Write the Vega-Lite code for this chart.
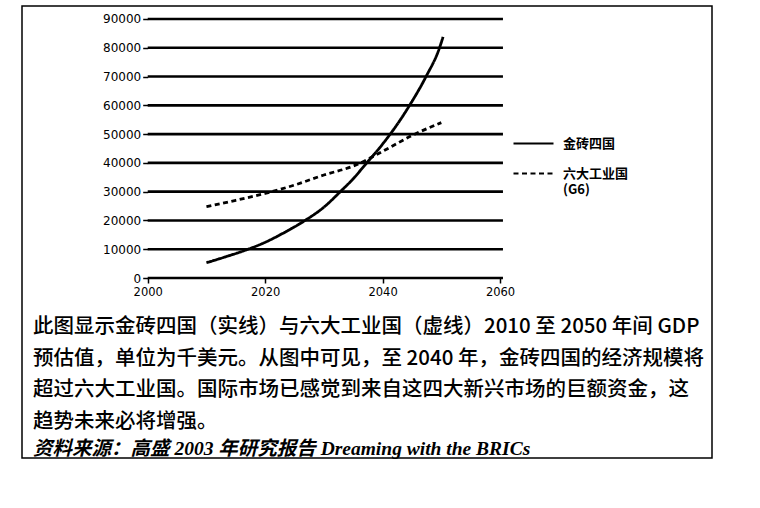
{
  "$schema": "https://vega.github.io/schema/vega-lite/v6.json",
  "width": 690,
  "height": 452,
  "autosize": {"type": "none"},
  "padding": {"left": 22, "top": 6, "right": 48, "bottom": 50},
  "background": "white",
  "config": {
    "view": {"stroke": "black", "strokeWidth": 1.5},
    "style": {"guide-label": {"lineHeight": 16}}
  },
  "title": {
    "text": [
      "此图显示金砖四国（实线）与六大工业国（虚线）2010 至 2050 年间 GDP",
      "预估值，单位为千美元。从图中可见，至 2040 年，金砖四国的经济规模将",
      "超过六大工业国。国际市场已感觉到来自这四大新兴市场的巨额资金，这",
      "趋势未来必将增强。"
    ],
    "subtitle": "资料来源：高盛 2003 年研究报告 Dreaming with the BRICs",
    "orient": "bottom",
    "anchor": "start",
    "frame": "group",
    "offset": -141,
    "dx": 11,
    "font": "Noto Sans CJK SC",
    "fontSize": 20.5,
    "fontWeight": 500,
    "color": "black",
    "lineHeight": 31.7,
    "subtitleFont": "Liberation Serif, Noto Sans CJK SC",
    "subtitleFontSize": 19.5,
    "subtitleFontStyle": "italic",
    "subtitleFontWeight": "bold",
    "subtitleColor": "black",
    "subtitlePadding": 7
  },
  "datasets": {
    "grid": [
      {"v": 0}, {"v": 10000}, {"v": 20000}, {"v": 30000}, {"v": 40000},
      {"v": 50000}, {"v": 60000}, {"v": 70000}, {"v": 80000}, {"v": 90000}
    ],
    "series": [
      {"series": "金砖四国", "year": 2010, "value": 5300},
      {"series": "金砖四国", "year": 2013, "value": 7200},
      {"series": "金砖四国", "year": 2017.1, "value": 10000},
      {"series": "金砖四国", "year": 2020, "value": 12400},
      {"series": "金砖四国", "year": 2023, "value": 15500},
      {"series": "金砖四国", "year": 2026.8, "value": 20000},
      {"series": "金砖四国", "year": 2030, "value": 24600},
      {"series": "金砖四国", "year": 2032.8, "value": 30000},
      {"series": "金砖四国", "year": 2035, "value": 34500},
      {"series": "金砖四国", "year": 2037.3, "value": 40000},
      {"series": "金砖四国", "year": 2039.4, "value": 45000},
      {"series": "金砖四国", "year": 2041.3, "value": 50000},
      {"series": "金砖四国", "year": 2043, "value": 54900},
      {"series": "金砖四国", "year": 2044.6, "value": 60000},
      {"series": "金砖四国", "year": 2047.4, "value": 70000},
      {"series": "金砖四国", "year": 2049.7, "value": 80000},
      {"series": "金砖四国", "year": 2050.3, "value": 83800},
      {"series": "六大工业国", "year": 2010, "value": 24800},
      {"series": "六大工业国", "year": 2015, "value": 27000},
      {"series": "六大工业国", "year": 2020, "value": 29400},
      {"series": "六大工业国", "year": 2025, "value": 32300},
      {"series": "六大工业国", "year": 2030, "value": 35800},
      {"series": "六大工业国", "year": 2035, "value": 38900},
      {"series": "六大工业国", "year": 2040, "value": 44000},
      {"series": "六大工业国", "year": 2045, "value": 49500},
      {"series": "六大工业国", "year": 2050, "value": 54000}
    ]
  },
  "layer": [
    {
      "data": {"name": "grid"},
      "mark": {"type": "rule", "color": "black", "strokeWidth": 2.6},
      "encoding": {
        "y": {
          "field": "v",
          "type": "quantitative",
          "scale": {"domain": [-62548, 94517], "nice": false, "zero": false},
          "axis": {
            "values": [0, 10000, 20000, 30000, 40000, 50000, 60000, 70000, 80000, 90000],
            "format": "d",
            "offset": -125.7,
            "domain": false,
            "grid": false,
            "title": null,
            "ticks": true,
            "tickSize": 5,
            "tickWidth": 1.5,
            "tickColor": "black",
            "labelFont": "DejaVu Sans",
            "labelFontSize": 12,
            "labelColor": "black",
            "labelPadding": 2
          }
        },
        "x": {"datum": 2000, "type": "quantitative", "scale": {"domain": [1978.59, 2096.1], "nice": false, "zero": false}},
        "x2": {"datum": 2060.5}
      }
    },
    {
      "mark": {"type": "rule", "color": "black", "strokeWidth": 2.4},
      "encoding": {
        "x": {"datum": 2000, "type": "quantitative", "scale": {"domain": [1978.59, 2096.1], "nice": false, "zero": false}},
        "y": {"datum": 0, "type": "quantitative", "scale": {"domain": [-62548, 94517], "nice": false, "zero": false}},
        "y2": {"datum": 90000}
      }
    },
    {
      "mark": {"type": "rule", "color": "black", "strokeWidth": 1.5},
      "encoding": {
        "y": {"datum": -6950, "type": "quantitative", "scale": {"domain": [-62548, 94517], "nice": false, "zero": false}}
      }
    },
    {
      "data": {"name": "series"},
      "mark": {"type": "line", "color": "black", "strokeWidth": 2.8, "interpolate": "monotone"},
      "encoding": {
        "x": {
          "field": "year",
          "type": "quantitative",
          "scale": {"domain": [1978.59, 2096.1], "nice": false, "zero": false},
          "axis": {
            "values": [2000, 2020, 2040, 2060],
            "format": "d",
            "offset": -180,
            "domain": false,
            "grid": false,
            "title": null,
            "tickSize": 5,
            "tickWidth": 1.5,
            "tickColor": "black",
            "labelFont": "DejaVu Sans",
            "labelFontSize": 11.5,
            "labelColor": "black",
            "labelPadding": 3
          }
        },
        "y": {
          "field": "value",
          "type": "quantitative",
          "scale": {"domain": [-62548, 94517], "nice": false, "zero": false}
        },
        "strokeDash": {
          "field": "series",
          "type": "nominal",
          "scale": {"domain": ["金砖四国", "六大工业国"], "range": [[1, 0], [5, 3.5]]},
          "legend": {
            "orient": "none",
            "legendX": 490,
            "legendY": 116,
            "title": null,
            "padding": 0,
            "symbolType": "stroke",
            "symbolSize": 1600,
            "symbolStrokeWidth": 2.2,
            "symbolStrokeColor": "black",
            "labelFont": "Noto Sans CJK SC",
            "labelFontSize": 13,
            "labelFontWeight": "bold",
            "labelColor": "black",
            "labelOffset": 8,
            "labelLimit": 200,
            "rowPadding": 1,
            "labelExpr": "datum.label == '六大工业国' ? ['六大工业国', '(G6)'] : datum.label"
          }
        }
      }
    }
  ]
}
